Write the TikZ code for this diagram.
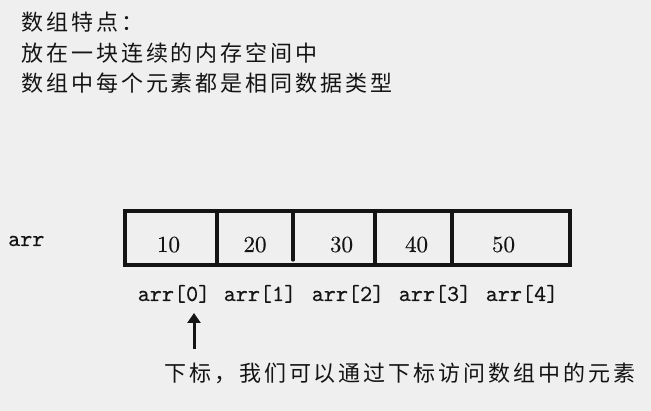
\documentclass[tikz,border=0pt]{standalone}
\usepackage{fontspec}
\newfontfamily\cjk{Noto Sans CJK SC}[LetterSpace=13.5]
\newfontfamily\lbfont{lmmono10-regular.otf}[FakeBold=0.3]
\newfontfamily\numfont{lmroman10-regular.otf}[FakeBold=0.3]
\usetikzlibrary{arrows.meta}
\definecolor{bg}{RGB}{239,239,239}
\definecolor{ink}{RGB}{20,20,20}
\begin{document}
\begin{tikzpicture}[x=1pt,y=-1pt,
  cn/.style={font=\cjk\fontsize{22}{26}\selectfont, inner sep=0pt, anchor=west, text=ink},
  num/.style={font=\numfont\fontsize{23}{27}\selectfont, inner sep=0pt, anchor=base, text=ink},
  lbl/.style={font=\lbfont\fontsize{23}{27}\selectfont, inner sep=0pt, anchor=base, text=ink},
  cellline/.style={line width=3.2pt, draw=ink},
  frame/.style={line width=4pt, draw=ink},
  uparrow/.style={line width=3pt, draw=ink, -{Triangle[width=13pt,length=10pt]}}
]
\fill[bg] (0,0) rectangle (651,411);
\useasboundingbox (0,0) rectangle (651,411);
% heading text
\node[cn] (t1) at (21,22.5) {数组特点：};
\node[cn] (t2) at (21,53) {放在一块连续的内存空间中};
\node[cn] (t3) at (21,83) {数组中每个元素都是相同数据类型};
% array name
\node[lbl, anchor=base west] (arr) at (8,246) {arr};
% array frame and dividers
\draw[frame] (125,211) rectangle (570,265);
\draw[cellline] (217,211) -- (217,265);
\draw[cellline, line cap=round] (293,211) -- (293,260);
\draw[cellline] (375,211) -- (375,265);
\draw[cellline] (452,211) -- (452,265);
% values
\node[num] (v0) at (168.5,252) {10};
\node[num] (v1) at (255,252) {20};
\node[num] (v2) at (341.5,252) {30};
\node[num] (v3) at (416.5,252) {40};
\node[num] (v4) at (503.5,252) {50};
% index labels
\node[lbl] (i0) at (174,301) {arr[0]};
\node[lbl] (i1) at (260,301) {arr[1]};
\node[lbl] (i2) at (348,301) {arr[2]};
\node[lbl] (i3) at (435,301) {arr[3]};
\node[lbl] (i4) at (522,301) {arr[4]};
% arrow
\coordinate (abot) at (194,349);
\coordinate (atop) at (194,313);
\draw[uparrow] (abot) -- (atop);
% caption
\node[cn] (cap) at (164,373) {下标，我们可以通过下标访问数组中的元素};
\end{tikzpicture}
\end{document}
